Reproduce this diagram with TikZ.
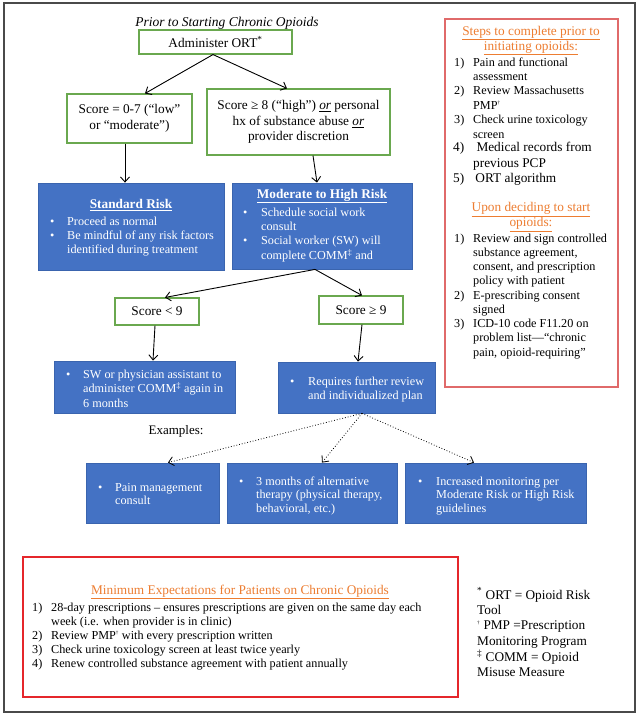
\documentclass[tikz,border=0pt]{standalone}
\usepackage{fontspec}
\setmainfont{Liberation Serif}
\usetikzlibrary{arrows.meta}
\definecolor{gboxc}{HTML}{6AA84F}
\definecolor{bfill}{HTML}{4472C4}
\definecolor{bdraw}{HTML}{3A64AE}
\definecolor{redA}{HTML}{E06A6A}
\definecolor{redB}{HTML}{E5262B}
\definecolor{orangeT}{HTML}{ED7D31}
\definecolor{frameC}{HTML}{4A4A4A}
\newcommand{\gfont}{\fontsize{13.3}{15.5}\selectfont}
\newcommand{\bfont}{\fontsize{12.2}{14.4}\selectfont}
\newcommand{\ttlfont}{\fontsize{13.3}{15}\selectfont}
\newcommand{\bul}{•}
\begin{document}
\begin{tikzpicture}[x=1pt,y=-1pt,
  gbox/.style={draw=gboxc,line width=1.1pt,fill=white,align=center,inner sep=0pt,font=\gfont},
  bbox/.style={draw=bdraw,line width=0.8pt,fill=bfill,inner sep=0pt},
  rbox/.style={line width=1.2pt,inner sep=0pt},
  wtxt/.style={text=white,inner sep=0pt,anchor=base west,font=\bfont},
  ktxt/.style={text=black,inner sep=0pt,anchor=base west,font=\bfont},
  otitle/.style={text=orangeT,inner sep=0pt,align=center,font=\ttlfont},
  arr/.style={-{Straight Barb[length=5pt,width=9pt]},line width=0.9pt},
  darr/.style={-{Straight Barb[length=5pt,width=9pt]},line width=0.8pt,dotted}]
\useasboundingbox (0,0) rectangle (640,715);
\fill[white] (0,0) rectangle (640,715);
\draw[frameC,line width=1.6pt] (4,3) rectangle (635,712);

% title
\node[inner sep=0pt,font=\fontsize{13.5}{15}\selectfont\itshape] (title) at (227,23) {Prior to Starting Chronic Opioids};

% green boxes
\node[gbox,minimum width=153pt,minimum height=24pt] (ort) at (215.5,42) {Administer ORT\textsuperscript{*}};
\node[gbox,minimum width=125pt,minimum height=49pt] (s07) at (129.5,118.5) {Score = 0-7 (“low”\\or “moderate”)};
\node[gbox,minimum width=183pt,minimum height=66pt] (s8) at (298.5,122) {Score ≥ 8 (“high”) \underline{\textit{or}} personal\\hx of substance abuse \underline{\textit{or}}\\provider discretion};

% blue risk boxes
\node[bbox,minimum width=186pt,minimum height=87pt] (std) at (131,226.5) {};
\node[inner sep=0pt,text=white,font=\fontsize{13.3}{15}\selectfont\bfseries] (stdt) at (131,205) {\underline{Standard Risk}};
\node[wtxt] (stdl) at (50,225) {\begin{tabular}[t]{@{}p{17pt}@{}l@{}}\bul & Proceed as normal\\ \bul & Be mindful of any risk factors\\ & identified during treatment\end{tabular}};

\node[bbox,minimum width=180pt,minimum height=86pt] (mod) at (322,226) {};
\node[inner sep=0pt,text=white,font=\fontsize{13.3}{15}\selectfont\bfseries] (modt) at (322,196) {\underline{Moderate to High Risk}};
\node[wtxt] (modl) at (243,216) {\begin{tabular}[t]{@{}p{18pt}@{}l@{}}\bul & Schedule social work\\ & consult\\ \bul & Social worker (SW) will\\ & complete COMM\textsuperscript{‡} and\end{tabular}};

% score 9 boxes
\node[gbox,minimum width=84pt,minimum height=27pt] (s9l) at (157,311.5) {Score < 9};
\node[gbox,minimum width=84pt,minimum height=28pt] (s9h) at (361,310) {Score ≥ 9};

\node[bbox,minimum width=181pt,minimum height=52pt] (sw) at (144.5,387) {};
\node[wtxt] (swl) at (66,378) {\begin{tabular}[t]{@{}p{17pt}@{}l@{}}\bul & SW or physician assistant to\\ & administer COMM\textsuperscript{‡} again in\\ & 6 months\end{tabular}};

\node[bbox,minimum width=157pt,minimum height=51pt] (req) at (356.5,387.5) {};
\node[wtxt] (reql) at (290,385) {\begin{tabular}[t]{@{}p{18pt}@{}l@{}}\bul & Requires further review\\ & and individualized plan\end{tabular}};

\node[inner sep=0pt,font=\fontsize{13}{15}\selectfont] (exlab) at (176,431) {Examples:};

% example boxes
\node[bbox,minimum width=133pt,minimum height=60pt] (ex1) at (152.5,493) {};
\node[wtxt,font=\fontsize{12.2}{13.6}\selectfont] (ex1l) at (98,491) {\begin{tabular}[t]{@{}p{17pt}@{}l@{}}\bul & Pain management\\ & consult\end{tabular}};
\node[bbox,minimum width=170pt,minimum height=60pt] (ex2) at (312,493) {};
\node[wtxt,font=\fontsize{12.2}{13.6}\selectfont] (ex2l) at (239,485) {\begin{tabular}[t]{@{}p{17pt}@{}l@{}}\bul & 3 months of alternative\\ & therapy (physical therapy,\\ & behavioral, etc.)\end{tabular}};
\node[bbox,minimum width=181pt,minimum height=60pt] (ex3) at (495.5,493) {};
\node[wtxt,font=\fontsize{12.2}{13.6}\selectfont] (ex3l) at (418,485) {\begin{tabular}[t]{@{}p{18pt}@{}l@{}}\bul & Increased monitoring per\\ & Moderate Risk or High Risk\\ & guidelines\end{tabular}};

% right red box
\node[rbox,draw=redA,minimum width=173pt,minimum height=368pt] (steps) at (531.5,203) {};
\node[otitle] (stepst) at (531,40.5) {\underline{Steps to complete prior to}\\\underline{initiating opioids:}};
\node[ktxt] (stepsA) at (454,66) {\begin{tabular}[t]{@{}p{19pt}@{}l@{}}1) & Pain and functional\\ & assessment\\ 2) & Review Massachusetts\\ & PMP\textsuperscript{\tiny †}\\ 3) & Check urine toxicology\\ & screen\end{tabular}};
\node[ktxt,font=\fontsize{13.3}{15.5}\selectfont] (stepsB) at (453,151.5) {\begin{tabular}[t]{@{}p{20pt}@{}l@{}}4) & \ Medical records from\\ & previous PCP\\ 5) & \,ORT algorithm\end{tabular}};
\node[otitle] (upont) at (531,217) {\underline{Upon deciding to start}\\\underline{opioids:}};
\node[ktxt,font=\fontsize{12.2}{14.25}\selectfont] (uponA) at (454,242) {\begin{tabular}[t]{@{}p{19pt}@{}l@{}}1) & Review and sign controlled\\ & substance agreement,\\ & consent, and prescription\\ & policy with patient\\ 2) & E-prescribing consent\\ & signed\\ 3) & ICD-10 code F11.20 on\\ & problem list—“chronic\\ & pain, opioid-requiring”\end{tabular}};

% minimum expectations box
\node[rbox,draw=redB,minimum width=435pt,minimum height=140pt] (minb) at (240.5,627) {};
\node[otitle] (mint) at (240,592) {\underline{Minimum Expectations for Patients on Chronic Opioids}};
\node[ktxt,font=\fontsize{12.2}{14}\selectfont] (minl) at (32,611) {\begin{tabular}[t]{@{}p{19pt}@{}l@{}}1) & 28-day prescriptions – ensures prescriptions are given on the same day each\\ & week (i.e. when provider is in clinic)\\ 2) & Review PMP\textsuperscript{\tiny †} with every prescription written\\ 3) & Check urine toxicology screen at least twice yearly\\ 4) & Renew controlled substance agreement with patient annually\end{tabular}};

% footnotes
\node[ktxt,font=\fontsize{13.3}{15.4}\selectfont] (foot) at (477,599) {\begin{tabular}[t]{@{}l@{}}\textsuperscript{*} ORT = Opioid Risk\\Tool\\\textsuperscript{\tiny †} PMP =Prescription\\Monitoring Program\\\textsuperscript{‡} COMM = Opioid\\Misuse Measure\end{tabular}};

% connectors
\draw[arr] ([xshift=-2.5pt]ort.south) -- ([xshift=15.5pt]s07.north);
\draw[arr] ([xshift=-2.5pt]ort.south) -- ([xshift=-11.5pt]s8.north);
\draw[arr] ([xshift=-4.5pt]s07.south) -- ([xshift=-6pt]std.north);
\draw[arr] ([xshift=14.5pt]s8.south) -- ([xshift=-5pt]mod.north);
\draw[arr] ([xshift=-7pt]mod.south) -- ([xshift=8pt]s9l.north);
\draw[arr] ([xshift=-7pt]mod.south) -- ([xshift=1pt]s9h.north);
\draw[arr] ([xshift=-2pt]s9l.south) -- ([xshift=8.5pt]sw.north);
\draw[arr] ([xshift=1pt]s9h.south) -- ([xshift=1.5pt]req.north);
\draw[darr] ([xshift=5.5pt]req.south) -- ([xshift=15.5pt]ex1.north);
\draw[darr] ([xshift=5.5pt]req.south) -- ([xshift=10pt]ex2.north);
\draw[darr] ([xshift=5.5pt]req.south) -- ([xshift=-21.5pt]ex3.north);
\end{tikzpicture}
\end{document}
